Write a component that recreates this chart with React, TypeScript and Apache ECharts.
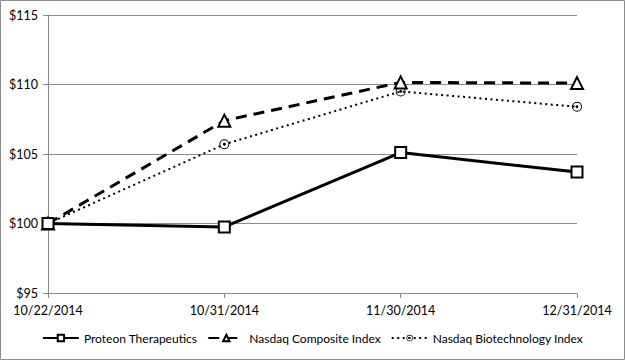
import React, { useEffect, useRef } from "react";
import * as echarts from "echarts";

const categories = ["10/22/2014", "10/31/2014", "11/30/2014", "12/31/2014"];
const proteon = [100, 99.75, 105.1, 103.7];
const nasdaqComposite = [100, 107.4, 110.15, 110.1];
const nasdaqBiotech = [100, 105.7, 109.5, 108.4];
const yTicks = { min: 95, max: 115, interval: 5 };

const FONT = "Lato, 'Open Sans', sans-serif";
const GRID_COLOR = "#8c8c8c";

const dotCircle =
  "path://M10,0 A10,10 0 1,1 10,20 A10,10 0 1,1 10,0 Z M10,2 A8,8 0 1,0 10,18 A8,8 0 1,0 10,2 Z M10,7.2 A2.8,2.8 0 1,1 10,12.8 A2.8,2.8 0 1,1 10,7.2 Z";

export default function App() {
  const ref = useRef<HTMLDivElement>(null);
  useEffect(() => {
    if (!ref.current) return;
    const chart = echarts.init(ref.current, null, { renderer: "svg" });
    chart.setOption({
      animation: false,
      backgroundColor: "#ffffff",
      textStyle: { fontFamily: FONT, color: "#000" },
      graphic: [
        {
          type: "rect",
          shape: { x: 0.5, y: 0.5, width: 624, height: 359 },
          style: { fill: "none", stroke: "#8c8c8c", lineWidth: 1 },
          silent: true,
        },
      ],
      grid: { left: 48, right: 48, top: 15, bottom: 67 },
      xAxis: {
        type: "category",
        data: categories,
        boundaryGap: false,
        axisLine: { show: true, lineStyle: { color: GRID_COLOR, width: 1 } },
        axisTick: { show: true, length: 5, lineStyle: { color: GRID_COLOR } },
        axisLabel: { color: "#000", fontSize: 12.5, fontFamily: FONT, margin: 11 },
        splitLine: { show: false },
      },
      yAxis: {
        type: "value",
        min: yTicks.min,
        max: yTicks.max,
        interval: yTicks.interval,
        axisLine: { show: true, lineStyle: { color: GRID_COLOR, width: 1 } },
        axisTick: { show: true, length: 5, lineStyle: { color: GRID_COLOR } },
        axisLabel: {
          color: "#000",
          fontSize: 12.5,
          fontFamily: FONT,
          margin: 10,
          formatter: (v: number) => "$" + v,
        },
        splitLine: { show: true, lineStyle: { color: GRID_COLOR, width: 1 } },
      },
      legend: {
        bottom: 11,
        left: "center",
        itemWidth: 36,
        itemHeight: 8,
        itemGap: 10,
        textStyle: { fontSize: 12, fontFamily: FONT, color: "#000" },
        data: ["Proteon Therapeutics", "Nasdaq Composite Index", "Nasdaq Biotechnology Index"],
      },
      series: [
        {
          name: "Proteon Therapeutics",
          type: "line",
          data: proteon,
          symbol: "emptyRect",
          symbolSize: 11,
          color: "#000",
          lineStyle: { color: "#000", width: 3, type: "solid" },
          itemStyle: { color: "#000", borderColor: "#000", borderWidth: 1 },
          z: 3,
        },
        {
          name: "Nasdaq Composite Index",
          type: "line",
          data: nasdaqComposite,
          symbol: "emptyTriangle",
          symbolSize: 12,
          color: "#000",
          lineStyle: { color: "#000", width: 3, type: [11, 7] },
          itemStyle: { color: "#000", borderColor: "#000", borderWidth: 1 },
          z: 2,
        },
        {
          name: "Nasdaq Biotechnology Index",
          type: "line",
          data: nasdaqBiotech,
          symbol: dotCircle,
          symbolSize: 10,
          color: "#000",
          lineStyle: { color: "#000", width: 2, type: [2, 3.5] },
          itemStyle: { color: "#000", borderWidth: 0 },
          z: 1,
        },
      ],
    });
    return () => chart.dispose();
  }, []);
  return (
    <div
      ref={ref}
      style={{ position: "absolute", left: 0, top: 0, width: 625, height: 360 }}
    />
  );
}
